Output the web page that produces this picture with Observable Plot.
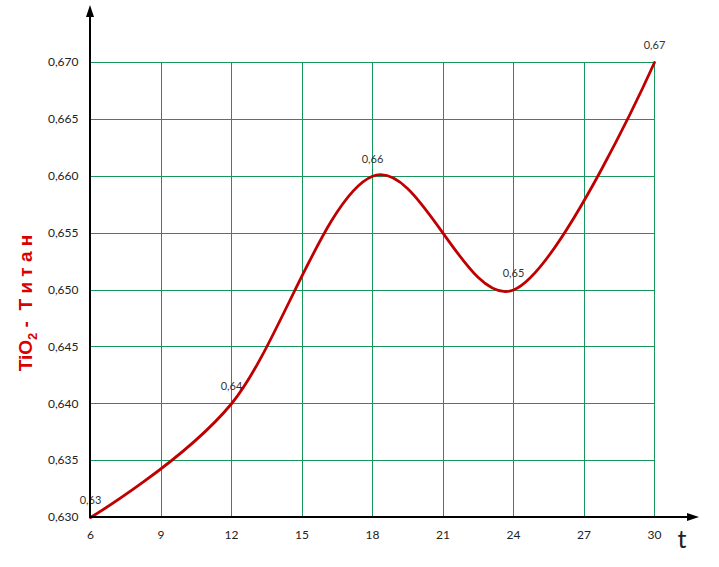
<!DOCTYPE html>
<html>
<head>
<meta charset="utf-8">
<script src="https://cdn.jsdelivr.net/npm/d3@7"></script>
<script src="https://cdn.jsdelivr.net/npm/@observablehq/plot@0.6"></script>
<style>
  html, body { margin: 0; padding: 0; background: #fff; }
  #chart { width: 719px; height: 567px; }
</style>
</head>
<body>
<div id="chart"></div>
<script>
// ---- data ----
const xTicks = [6, 9, 12, 15, 18, 21, 24, 27, 30];
const yTicks = [0.630, 0.635, 0.640, 0.645, 0.650, 0.655, 0.660, 0.665, 0.670];
const tValues = [6, 12, 18, 24, 30];
const tio2Values = [0.63, 0.64, 0.66, 0.65, 0.67];
const pointLabels = ["0,63", "0,64", "0,66", "0,65", "0,67"];
const yTitleMain = "TiO";
const yTitleSub = "2";
const yTitleRest = " -  Т и т а н";
const xTitle = "t";

const data = tValues.map((t, i) => ({t, v: tio2Values[i], label: pointLabels[i]}));
const commaFmt = d => d3.format(".3f")(d).replace(".", ",");

const gridColor = "#16965a";

const chart = Plot.plot({
  width: 719,
  height: 567,
  marginLeft: 90,
  marginRight: 65,
  marginTop: 62,
  marginBottom: 50,
  style: {fontFamily: "Lato, 'Open Sans', sans-serif", fontSize: "12px", color: "#222", background: "#fff"},
  x: {domain: [xTicks[0], xTicks[xTicks.length - 1]], ticks: xTicks, tickSize: 0, tickPadding: 13, label: null, tickFormat: d => String(d)},
  y: {domain: [yTicks[0], yTicks[yTicks.length - 1]], ticks: yTicks, tickSize: 0, tickPadding: 12, label: null, tickFormat: commaFmt},
  marks: [
    Plot.ruleX(xTicks, {stroke: gridColor, strokeWidth: 1, shapeRendering: "crispEdges"}),
    Plot.ruleY(yTicks, {stroke: gridColor, strokeWidth: 1, shapeRendering: "crispEdges"}),
    Plot.line(data, {x: "t", y: "v", curve: "cardinal", tension: 0, stroke: "#c00000", strokeWidth: 2.8}),
    Plot.text(data, {x: "t", y: "v", text: "label", dy: -17, fill: "#333", fontSize: 11})
  ]
});

document.getElementById("chart").appendChild(chart);

// ---- axes with arrows and titles ----
const svg = d3.select(chart);
const xs = chart.scale("x"), ys = chart.scale("y");
const x0 = xs.apply(xTicks[0]);
const y0 = ys.apply(yTicks[0]);
const g = svg.append("g");

// y axis line + arrow
g.append("line").attr("x1", x0).attr("x2", x0).attr("y1", y0 + 1).attr("y2", 16)
  .attr("stroke", "#000").attr("stroke-width", 2);
g.append("path").attr("d", `M${x0},5 L${x0 - 4},17 L${x0 + 4},17 Z`).attr("fill", "#000");

// x axis line + arrow
g.append("line").attr("x1", x0 - 1).attr("x2", 689).attr("y1", y0).attr("y2", y0)
  .attr("stroke", "#000").attr("stroke-width", 2);
g.append("path").attr("d", `M699,${y0} L687,${y0 - 4} L687,${y0 + 4} Z`).attr("fill", "#000");

// x title
g.append("text").attr("x", 682).attr("y", 548).attr("text-anchor", "middle")
  .attr("font-family", "Lato, 'Open Sans', sans-serif").attr("font-size", 25).attr("fill", "#222")
  .text(xTitle);

// y title
const yt = g.append("text")
  .attr("transform", `translate(32,303) rotate(-90)`)
  .attr("text-anchor", "middle")
  .attr("font-family", "'Liberation Sans', Arial, sans-serif")
  .attr("font-weight", "bold").attr("font-size", 19).attr("fill", "#d80000");
yt.append("tspan").text(yTitleMain);
yt.append("tspan").attr("font-size", 13).attr("dy", 5).text(yTitleSub);
yt.append("tspan").attr("dy", -5).text(yTitleRest);
</script>
</body>
</html>
